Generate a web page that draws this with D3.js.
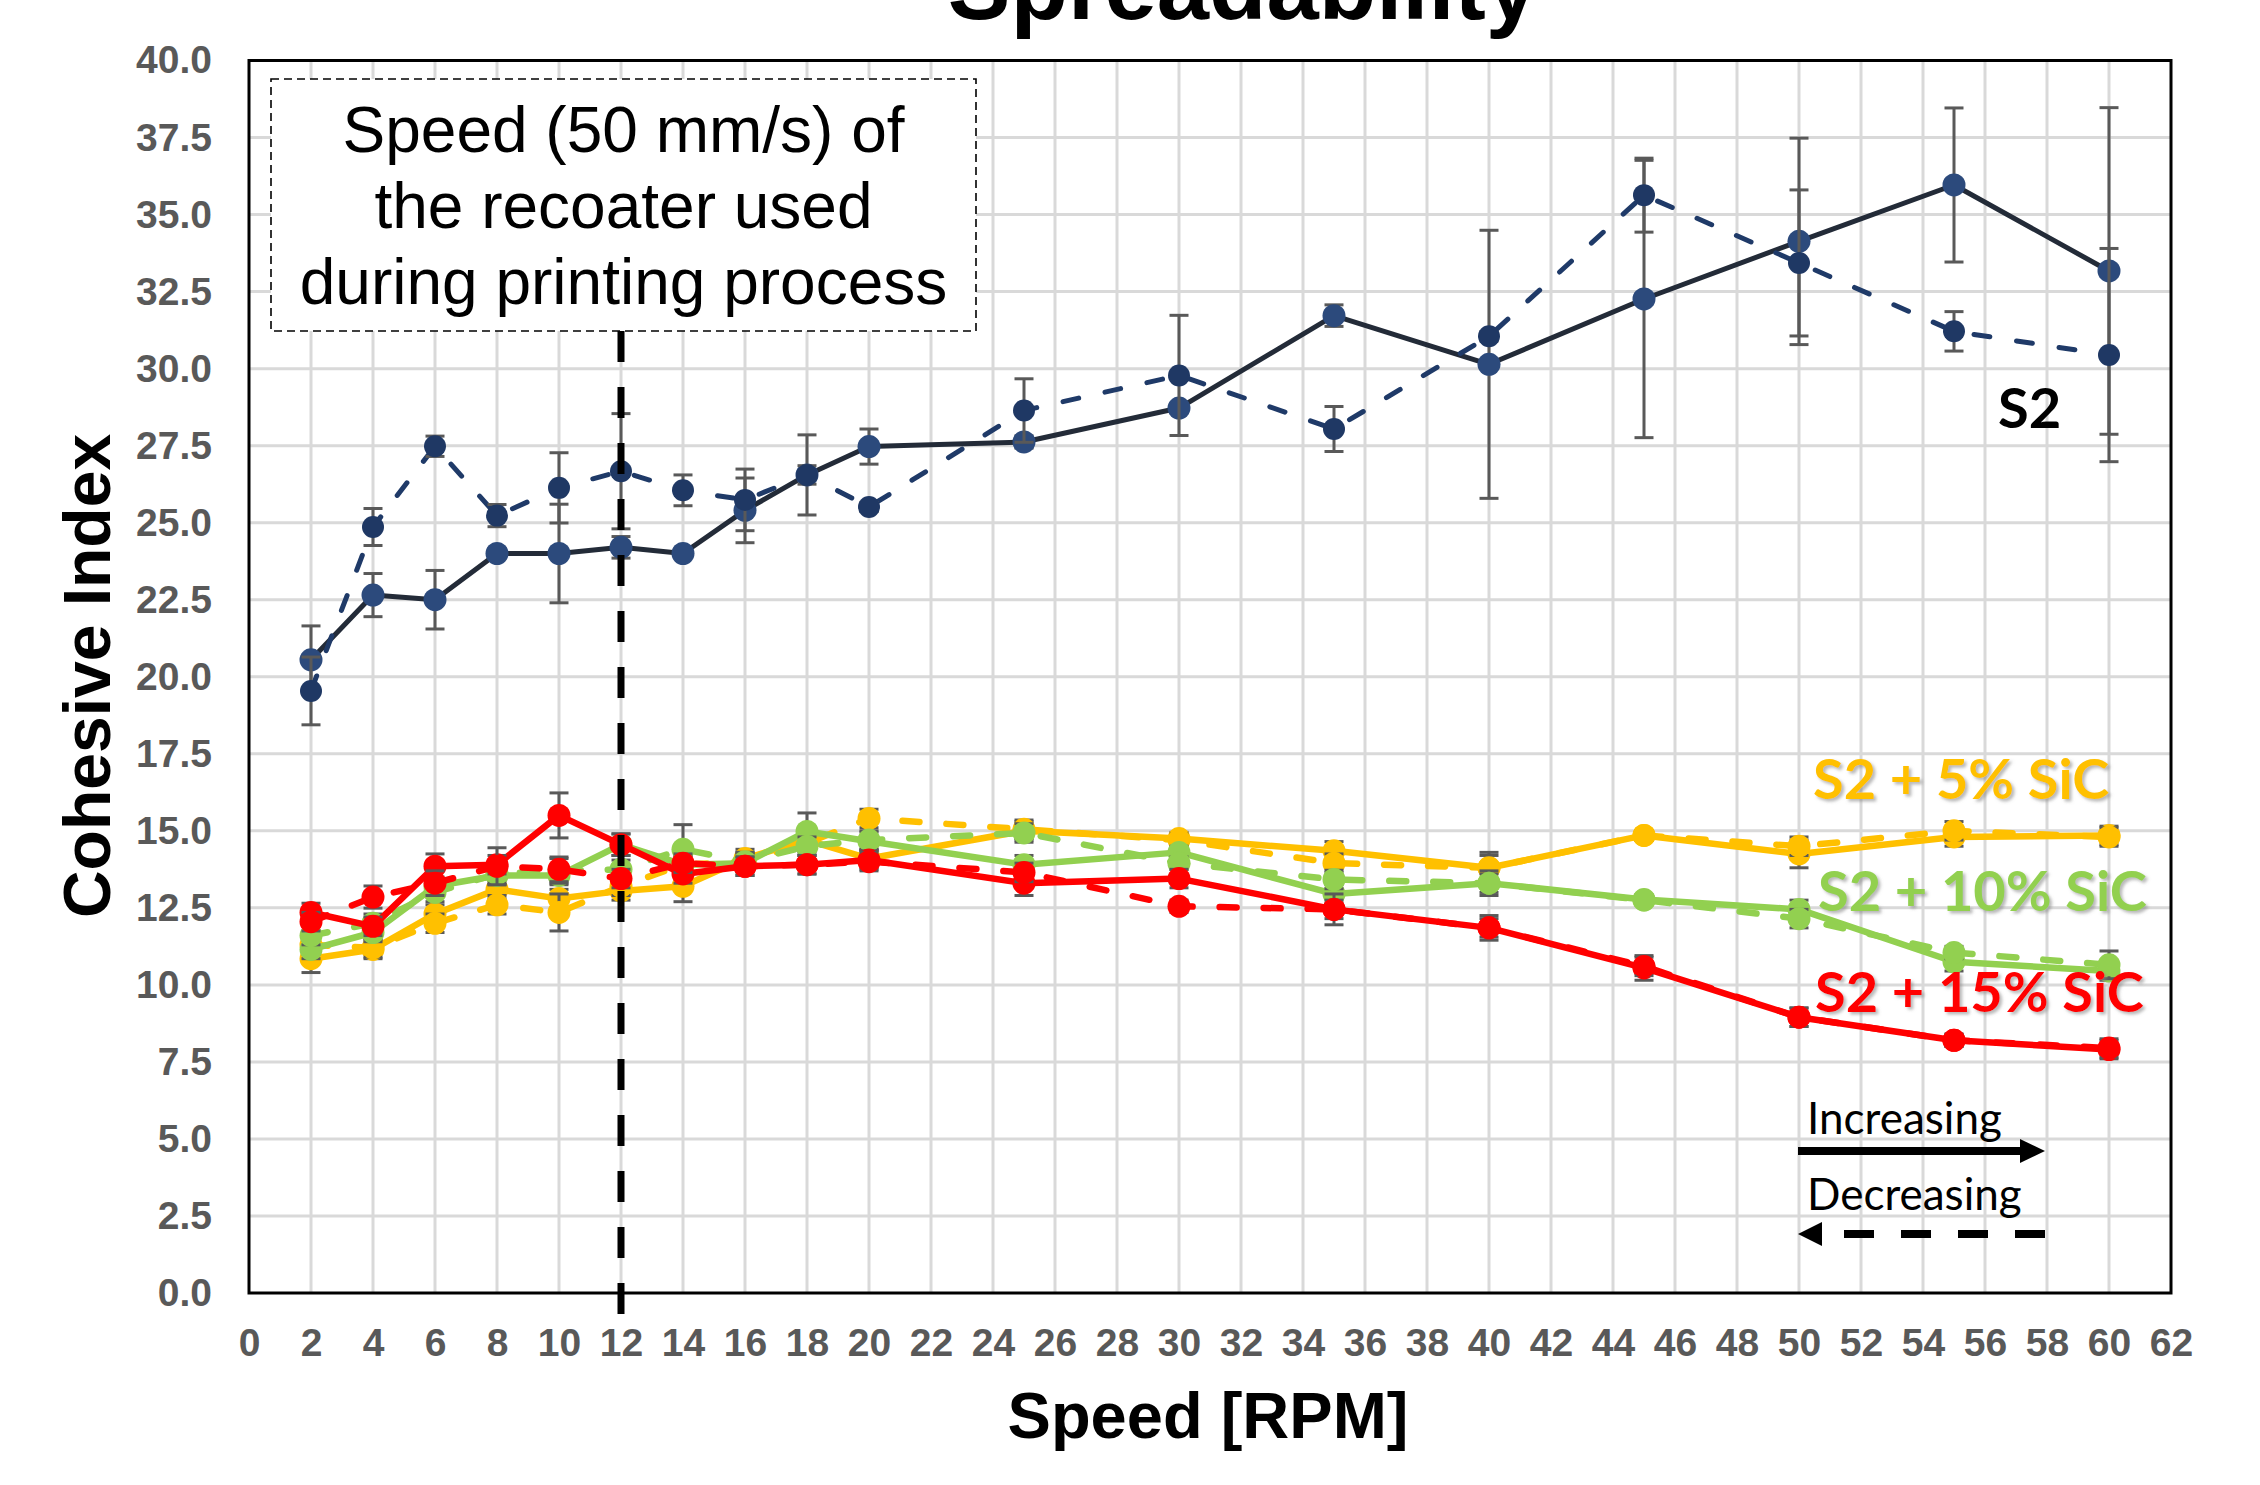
<!DOCTYPE html>
<html><head><meta charset="utf-8">
<script src="https://cdn.jsdelivr.net/npm/d3@7"></script>
<style>body{margin:0;background:#fff}</style>
</head><body><svg id="c" width="2260" height="1485"></svg>
<script>
// ---------- DATA ----------
const speeds = [2,4,6,8,10,12,14,16,18,20,25,30,35,40,45,50,55,60];
const xTickLabels = d3.range(0, 63, 2);
const yTickLabels = d3.range(0, 40.01, 2.5);

const s2Inc    = [20.55,22.65,22.5,24.0,24.0,24.2,24.0,25.4,26.55,27.47,27.62,28.72,31.72,30.14,32.26,34.13,35.96,33.17];
const s2IncErr = [1.1,0.7,0.95,0.15,1.6,0.35,0.1,1.05,1.3,0.57,0.2,0.15,0.35,4.35,4.5,3.35,2.5,5.3];
const s2Dec    = [19.54,24.86,27.48,25.23,26.13,26.67,26.05,25.74,26.55,25.51,28.64,29.78,28.04,31.05,35.63,33.43,31.21,30.44];
const s2DecErr = [1.1,0.6,0.33,0.36,1.14,1.87,0.5,1.0,0.3,0.15,1.03,1.95,0.73,0.15,1.2,2.37,0.64,3.46];

const sic5Inc    = [10.85,11.15,12.3,13.1,12.8,13.05,13.2,14.1,14.7,14.1,15.0,14.75,14.35,13.8,14.85,14.25,14.8,14.85];
const sic5IncErr = [0.45,0.3,0.3,0.3,0.3,0.3,0.5,0.3,0.3,0.3,0.3,0.2,0.3,0.5,0.15,0.45,0.3,0.3];
const sic5Dec    = [11.3,11.2,12.0,12.6,12.35,13.2,13.9,14.0,14.6,15.4,15.05,14.7,13.95,13.8,14.85,14.5,15.0,14.8];
const sic5DecErr = [0.3,0.3,0.3,0.3,0.6,0.3,0.3,0.3,0.3,0.3,0.3,0.2,0.3,0.4,0.15,0.3,0.3,0.3];

const sic10Inc    = [11.15,11.7,13.2,13.55,13.55,14.55,13.9,13.95,14.98,14.66,13.9,14.3,12.95,13.3,12.77,12.45,10.75,10.45];
const sic10IncErr = [0.3,0.3,0.3,0.3,0.3,0.35,0.3,0.3,0.6,0.3,0.3,0.2,0.3,0.4,0.15,0.3,0.3,0.3];
const sic10Dec    = [11.6,12.0,13.0,13.6,13.7,13.75,14.4,14.0,14.5,14.7,14.93,13.95,13.42,13.3,12.75,12.15,11.05,10.65];
const sic10DecErr = [0.3,0.3,0.3,0.3,0.4,0.3,0.8,0.3,0.3,0.3,0.3,0.2,0.3,0.3,0.15,0.3,0.2,0.45];

const sic15Inc    = [12.35,11.9,13.85,13.9,15.5,14.55,13.6,13.85,13.9,14.05,13.3,13.45,12.45,11.85,10.55,8.95,8.2,7.9];
const sic15IncErr = [0.3,0.3,0.4,0.3,0.73,0.35,0.3,0.3,0.3,0.3,0.4,0.3,0.5,0.4,0.4,0.3,0.2,0.3];
const sic15Dec    = [12.05,12.85,13.3,13.85,13.75,13.45,13.95,13.85,13.9,14.0,13.65,12.55,12.45,11.85,10.6,8.95,8.2,7.95];
const sic15DecErr = [0.3,0.36,0.4,0.6,0.4,0.3,0.3,0.3,0.3,0.3,0.3,0.2,0.3,0.3,0.3,0.3,0.2,0.3];

const seriesLabels = ["S2", "S2 + 5% SiC", "S2 + 10% SiC", "S2 + 15% SiC"];
const boxLines = ["Speed (50 mm/s) of", "the recoater used", "during printing process"];
const directionLabels = ["Increasing", "Decreasing"];
const recoaterSpeed = 12;

// ---------- LAYOUT ----------
const W = 2260, H = 1485;
const L = 249, R = 2171, T = 60.5, B = 1293;
const x = d3.scaleLinear().domain([0, 62]).range([L, R]);
const y = d3.scaleLinear().domain([0, 40]).range([B, T]);
const svg = d3.select('#c');
const ARIAL = "'Liberation Sans', Arial, sans-serif";
const CAL = "Lato, 'Open Sans', sans-serif";

svg.append('rect').attr('width', W).attr('height', H).attr('fill', '#fff');

const defs = svg.append('defs');
const f = defs.append('filter').attr('id', 'shadow').attr('x', '-10%').attr('y', '-20%').attr('width', '130%').attr('height', '150%');
f.append('feDropShadow').attr('dx', 2.5).attr('dy', 2.5).attr('stdDeviation', 1.5)
  .attr('flood-color', '#7f7f7f').attr('flood-opacity', 0.55);

// grid
const grid = svg.append('g');
grid.selectAll('line.v').data(xTickLabels.filter(v => v > 0 && v < 62)).join('line')
  .attr('x1', d => x(d)).attr('x2', d => x(d)).attr('y1', T).attr('y2', B)
  .attr('stroke', '#d9d9d9').attr('stroke-width', 3);
grid.selectAll('line.h').data(yTickLabels.filter(v => v > 0 && v < 40)).join('line')
  .attr('x1', L).attr('x2', R).attr('y1', d => y(d)).attr('y2', d => y(d))
  .attr('stroke', '#d9d9d9').attr('stroke-width', 3);

// axes
const xAxis = svg.append('g').attr('transform', `translate(0,${B})`)
  .call(d3.axisBottom(x).tickValues(xTickLabels).tickSize(0).tickPadding(35).tickFormat(d3.format('d')));
xAxis.select('.domain').remove();
xAxis.selectAll('text').attr('font-family', ARIAL).attr('font-size', 39).attr('font-weight', 'bold').attr('fill', '#595959');

const yAxis = svg.append('g').attr('transform', `translate(${L},0)`)
  .call(d3.axisLeft(y).tickValues(yTickLabels).tickSize(0).tickPadding(37).tickFormat(d3.format('.1f')));
yAxis.select('.domain').remove();
yAxis.selectAll('text').attr('font-family', ARIAL).attr('font-size', 39).attr('font-weight', 'bold').attr('fill', '#595959');

// border
svg.append('rect').attr('x', L).attr('y', T).attr('width', R - L).attr('height', B - T)
  .attr('fill', 'none').attr('stroke', '#000').attr('stroke-width', 3);

// series
const series = [
  {v: s2Inc,  e: s2IncErr,  line: '#232b38', mark: '#2c4a7c', dash: null, w: 5, r: 11.5},
  {v: s2Dec,  e: s2DecErr,  line: '#1f3a68', mark: '#1f3864', dash: '16,27', w: 5, r: 11},
  {v: sic5Inc,  e: sic5IncErr,  line: '#ffc000', mark: '#ffc000', dash: null, w: 6.5, r: 11.5},
  {v: sic5Dec,  e: sic5DecErr,  line: '#ffc000', mark: '#ffc000', dash: '17,27', w: 6.5, r: 11.5},
  {v: sic10Inc, e: sic10IncErr, line: '#92d050', mark: '#92d050', dash: null, w: 6.5, r: 11.5},
  {v: sic10Dec, e: sic10DecErr, line: '#92d050', mark: '#92d050', dash: '17,27', w: 6.5, r: 11.5},
  {v: sic15Inc, e: sic15IncErr, line: '#ff0000', mark: '#ff0000', dash: null, w: 6.5, r: 11.5},
  {v: sic15Dec, e: sic15DecErr, line: '#ff0000', mark: '#ff0000', dash: '17,27', w: 6.5, r: 11.5}
];
const lineGen = d3.line().x((d, i) => x(speeds[i])).y(d => y(d));
series.forEach(s => {
  const g = svg.append('g');
  g.append('path').attr('d', lineGen(s.v)).attr('fill', 'none')
    .attr('stroke', s.line).attr('stroke-width', s.w)
    .attr('stroke-linecap', 'round').attr('stroke-linejoin', 'round')
    .attr('stroke-dasharray', s.dash);
  const eb = g.append('g').attr('stroke', '#595959').attr('stroke-width', 3);
  s.v.forEach((v, i) => {
    const cx = x(speeds[i]), y1 = y(v + s.e[i]), y2 = y(v - s.e[i]);
    eb.append('line').attr('x1', cx).attr('x2', cx).attr('y1', y1).attr('y2', y2);
    eb.append('line').attr('x1', cx - 9.5).attr('x2', cx + 9.5).attr('y1', y1).attr('y2', y1);
    eb.append('line').attr('x1', cx - 9.5).attr('x2', cx + 9.5).attr('y1', y2).attr('y2', y2);
  });
  g.selectAll('circle').data(s.v).join('circle')
    .attr('cx', (d, i) => x(speeds[i])).attr('cy', d => y(d)).attr('r', s.r).attr('fill', s.mark);
});

// annotation box
const bx = 271, by = 79, bw = 705, bh = 252;
svg.append('rect').attr('x', bx).attr('y', by).attr('width', bw).attr('height', bh)
  .attr('fill', '#fff').attr('stroke', '#000').attr('stroke-width', 1.6).attr('stroke-dasharray', '8,5');
svg.append('g').selectAll('text').data(boxLines).join('text')
  .attr('x', bx + bw / 2).attr('y', (d, i) => 152 + i * 76).attr('text-anchor', 'middle')
  .attr('font-family', ARIAL).attr('font-size', 64).attr('fill', '#000').text(d => d);

// vertical recoater line
svg.append('line').attr('x1', x(recoaterSpeed)).attr('x2', x(recoaterSpeed))
  .attr('y1', by + bh).attr('y2', 1316).attr('stroke', '#000').attr('stroke-width', 7)
  .attr('stroke-dasharray', '31,25');

// series labels
const labelColors = ['#000', '#ffc000', '#92d050', '#ff0000'];
const labelPos = [[1998, 428], [1813, 799], [1818, 911], [1815, 1012]];
svg.append('g').selectAll('text').data(seriesLabels).join('text')
  .attr('x', (d, i) => labelPos[i][0]).attr('y', (d, i) => labelPos[i][1])
  .attr('font-family', CAL).attr('font-weight', 'bold').attr('font-size', 56)
  .attr('fill', (d, i) => labelColors[i]).attr('filter', (d, i) => i ? 'url(#shadow)' : null)
  .text(d => d);

// direction legend
svg.append('text').attr('x', 1807).attr('y', 1134).attr('font-family', CAL).attr('font-size', 44).text(directionLabels[0]);
svg.append('text').attr('x', 1807).attr('y', 1210).attr('font-family', CAL).attr('font-size', 44).text(directionLabels[1]);
svg.append('line').attr('x1', 1798).attr('x2', 2026).attr('y1', 1151).attr('y2', 1151).attr('stroke', '#000').attr('stroke-width', 8);
svg.append('path').attr('d', 'M2045,1151 L2020,1139 L2020,1163 Z').attr('fill', '#000');
svg.append('line').attr('x1', 2045).attr('x2', 1818).attr('y1', 1234).attr('y2', 1234).attr('stroke', '#000').attr('stroke-width', 8).attr('stroke-dasharray', '30,27');
svg.append('path').attr('d', 'M1798,1234 L1822,1222 L1822,1246 Z').attr('fill', '#000');

// titles
svg.append('text').attr('x', 1243).attr('y', 19).attr('text-anchor', 'middle')
  .attr('font-family', ARIAL).attr('font-weight', 'bold').attr('font-size', 94).text('Spreadability');
svg.append('text').attr('x', 1208).attr('y', 1438).attr('text-anchor', 'middle')
  .attr('font-family', ARIAL).attr('font-weight', 'bold').attr('font-size', 65).text('Speed [RPM]');
svg.append('text').attr('transform', 'translate(110,676) rotate(-90)').attr('text-anchor', 'middle')
  .attr('font-family', ARIAL).attr('font-weight', 'bold').attr('font-size', 66).text('Cohesive Index');
</script></body></html>
